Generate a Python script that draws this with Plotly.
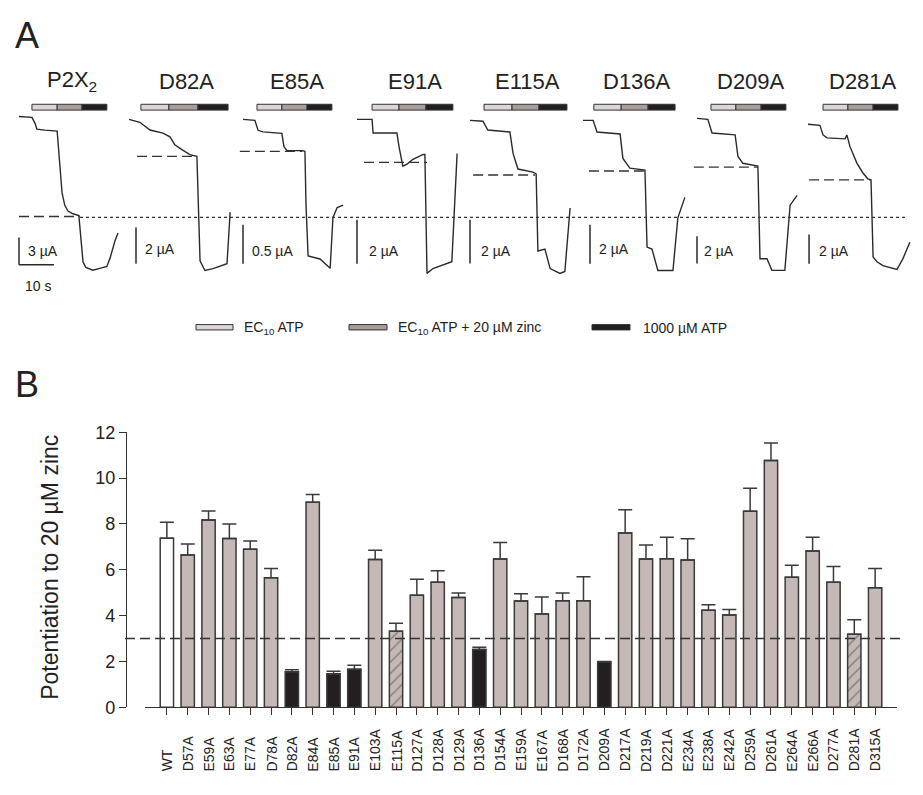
import plotly.graph_objects as go

FONT = "Liberation Sans, Arial, sans-serif"
W, H = 923, 795
BODY_MARGIN = 8  # default page margin around the figure div

# ---------------- Panel B data ----------------
categories = ["WT", "D57A", "E59A", "E63A", "E77A", "D78A", "D82A", "E84A", "E85A", "E91A",
              "E103A", "E115A", "D127A", "D128A", "D129A", "D136A", "D154A", "E159A", "E167A",
              "D168A", "D172A", "D209A", "D217A", "D219A", "D221A", "E234A", "E238A", "E242A",
              "D259A", "D261A", "E264A", "E266A", "D277A", "D281A", "D315A"]
potentiation = [7.38, 6.64, 8.17, 7.36, 6.89, 5.65, 1.55, 8.95, 1.46, 1.66,
                6.45, 3.32, 4.89, 5.46, 4.79, 2.52, 6.47, 4.64, 4.07,
                4.65, 4.65, 1.97, 7.60, 6.47, 6.48, 6.43, 4.23, 4.03,
                8.55, 10.77, 5.67, 6.82, 5.45, 3.18, 5.21]
sem = [0.69, 0.49, 0.40, 0.64, 0.37, 0.41, 0.08, 0.33, 0.11, 0.17,
       0.40, 0.34, 0.70, 0.50, 0.20, 0.10, 0.72, 0.31, 0.74,
       0.34, 1.05, 0.03, 1.02, 0.61, 0.94, 0.92, 0.24, 0.24,
       1.01, 0.76, 0.53, 0.60, 0.69, 0.64, 0.85]
# wt = wild type, ala = normal, low = abolished, part = partial
group = ["wt", "ala", "ala", "ala", "ala", "ala", "low", "ala", "low", "low",
         "ala", "part", "ala", "ala", "ala", "low", "ala", "ala", "ala",
         "ala", "ala", "low", "ala", "ala", "ala", "ala", "ala", "ala",
         "ala", "ala", "ala", "ala", "ala", "part", "ala"]
threshold = 3
y_ticks = [0, 2, 4, 6, 8, 10, 12]

# ---------------- Panel A data ----------------
trace_names = ["P2X<sub>2</sub>", "D82A", "E85A", "E91A", "E115A", "D136A", "D209A", "D281A"]
trace_t = [
    [0, 3.7, 4.6, 5.1, 7.4, 10.9, 12.3, 13.1, 14.0, 15.4, 17.1, 17.7, 18.0, 18.3, 19.1, 21.1, 23.1, 25.1, 26.0, 26.6, 27.4, 28.3],
    [0, 3.1, 6.0, 9.7, 11.7, 13.1, 15.1, 17.4, 19.4, 20.3, 21.7, 24.0, 28.0, 28.9],
    [0, 3.4, 4.3, 5.7, 11.1, 11.7, 12.6, 16.9, 17.7, 18.0, 18.6, 22.0, 24.9, 25.7, 26.9, 28.6],
    [0, 4.3, 4.6, 11.4, 12.0, 12.6, 13.1, 14.3, 16.0, 18.9, 19.4, 20.0, 21.7, 27.1, 28.6],
    [0, 3.7, 5.1, 11.4, 12.3, 13.7, 18.0, 18.9, 19.4, 21.4, 22.9, 25.7, 27.1, 28.6],
    [0, 2.9, 4.0, 10.6, 11.4, 13.4, 17.7, 18.3, 19.7, 21.4, 25.7, 27.1, 29.1],
    [0, 3.1, 4.3, 10.9, 11.7, 13.1, 17.4, 18.0, 20.0, 21.4, 25.1, 26.6, 28.6],
    [0, 3.4, 4.3, 5.4, 10.6, 11.1, 12.0, 14.0, 15.7, 17.1, 18.0, 18.6, 19.7, 21.4, 25.4, 27.1, 29.1],
]
trace_i = [
    [0, -0.1, -0.75, -1.4, -1.5, -1.6, -8.4, -9.8, -10.4, -10.7, -10.9, -14.0, -15.0, -16.0, -16.6, -16.9, -16.7, -16.5, -15.6, -14.8, -13.7, -12.8],
    [0, -0.16, -0.59, -0.76, -0.97, -1.41, -1.68, -1.95, -2.05, -7.84, -8.38, -8.27, -8.0, -5.14],
    [0, -0.013, -0.14, -0.16, -0.18, -0.35, -0.40, -0.40, -0.41, -1.1, -1.75, -1.79, -1.91, -1.26, -1.13, -1.10],
    [0, 0, -0.62, -0.62, -1.24, -1.69, -2.13, -2.04, -1.82, -1.6, -1.6, -7.02, -6.8, -6.49, -1.56],
    [0, -0.04, -0.44, -0.53, -1.51, -2.22, -2.36, -2.44, -5.96, -5.87, -6.76, -6.98, -6.89, -4.0],
    [0, 0, -0.6, -0.7, -1.95, -2.45, -2.55, -6.5, -6.6, -7.7, -7.7, -5.0, -3.95],
    [0, -0.07, -1.07, -1.21, -2.79, -3.29, -3.5, -10.29, -10.29, -11.14, -11.14, -6.36, -5.64],
    [0, -0.07, -0.73, -0.93, -1.0, -0.73, -1.53, -2.67, -3.33, -3.73, -3.8, -9.07, -9.4, -9.67, -9.93, -9.2, -8.07],
]
# application times (s): EC10 start, zinc start, 1000 uM ATP start, end
app_times = [
    [3.7, 10.9, 18.0, 25.1], [3.4, 11.4, 19.7, 28.3], [4.0, 11.1, 18.3, 25.4], [4.3, 12.0, 19.7, 27.4],
    [4.0, 12.0, 19.7, 27.7], [3.1, 10.9, 18.6, 26.3], [4.0, 11.1, 18.3, 25.4], [4.3, 11.4, 18.6, 25.7],
]
zinc_level = [-11.0, -2.05, -0.41, -1.96, -2.49, -2.6, -3.57, -3.8]
zinc_span = [[0, 17.4], [2.3, 19.4], [-0.9, 16.9], [2.0, 20.0], [0.9, 18.6], [1.7, 18.3], [-0.9, 17.4], [0.3, 18.0]]
scale_uA = [3, 2, 0.5, 2, 2, 2, 2, 2]
scale_text = ["3 µA", "2 µA", "0.5 µA", "2 µA", "2 µA", "2 µA", "2 µA", "2 µA"]
time_scale_s = 10
legend_labels = ["EC<sub>10</sub> ATP", "EC<sub>10</sub> ATP + 20 µM zinc", "1000 µM ATP"]
app_colors = ["#dcd6d5", "#a89d9b", "#231f20"]

# ---------------- layout helpers (positions) ----------------
def py(p):  # screen pixel row -> paper y
    return (H - (p - BODY_MARGIN)) / H

def px(p):  # screen pixel column -> paper x
    return (p - BODY_MARGIN) / W

trace_x0 = [19, 129, 243, 357, 470, 583, 697, 808]   # pixel origin of each recording
PX_PER_S = 3.5
T_RANGE = [-3, 32]
y_ranges = [[-19.4, 2.04], [-9.62, 1.19], [-2.225, 0.275], [-7.91, 0.978],
            [-7.87, 1.022], [-8.85, 1.15], [-12.79, 1.5], [-11.53, 1.8]]
sb_pos = [[0, -16.3], [2.0, -8.0], [0, -1.85], [0, -6.58], [0, -6.53], [2.0, -7.35], [0, -10.64], [0.3, -9.53]]
sb_label_pos = [[2.0, -14.8], [4.0, -7.2], [2.0, -1.69], [2.9, -6.0], [2.6, -5.96], [4.0, -6.6], [1.4, -9.71], [2.6, -8.67]]
ten_s_label = [1.1, -18.65]

fig = go.Figure()
layout = dict(width=W, height=H, margin=dict(l=0, r=0, t=0, b=0),
              paper_bgcolor="white", plot_bgcolor="rgba(0,0,0,0)",
              showlegend=False, font=dict(family=FONT, color="#222"))
shapes, annotations = [], []
LINE = "#2a2a2a"

# ---------------- Panel A ----------------
for k in range(8):
    xa, ya = f"x{k+2}", f"y{k+2}"
    x0 = trace_x0[k]
    dom = [px(x0 + T_RANGE[0] * PX_PER_S), px(x0 + T_RANGE[1] * PX_PER_S)]
    layout[f"xaxis{k+2}"] = dict(domain=dom, range=T_RANGE, visible=False, anchor=ya)
    layout[f"yaxis{k+2}"] = dict(domain=[py(290), py(90)], range=y_ranges[k], visible=False, anchor=xa)
    fig.add_trace(go.Scatter(x=trace_t[k], y=trace_i[k], mode="lines", xaxis=xa, yaxis=ya,
                             line=dict(color=LINE, width=1.4), hoverinfo="skip"))
    fig.add_trace(go.Scatter(x=zinc_span[k], y=[zinc_level[k]] * 2, mode="lines", xaxis=xa, yaxis=ya,
                             line=dict(color="#333", width=1.4, dash="10px,5px"), hoverinfo="skip"))
    sx, sy = sb_pos[k]
    fig.add_trace(go.Scatter(x=[sx, sx], y=[sy, sy + scale_uA[k]], mode="lines", xaxis=xa, yaxis=ya,
                             line=dict(color=LINE, width=1.5), hoverinfo="skip"))
    annotations.append(dict(x=sb_label_pos[k][0], y=sb_label_pos[k][1], xref=xa, yref=ya,
                            text=scale_text[k], showarrow=False, xanchor="left", yanchor="middle",
                            font=dict(size=14, family=FONT, color="#222")))
    if k == 0:
        fig.add_trace(go.Scatter(x=[sx, sx + time_scale_s], y=[sy, sy], mode="lines", xaxis=xa, yaxis=ya,
                                 line=dict(color=LINE, width=1.5), hoverinfo="skip"))
        annotations.append(dict(x=ten_s_label[0], y=ten_s_label[1], xref=xa, yref=ya,
                                text=f"{time_scale_s} s", showarrow=False, xanchor="left", yanchor="middle",
                                font=dict(size=14, family=FONT, color="#222")))
    a = app_times[k]
    for j in range(3):
        shapes.append(dict(type="rect", xref=xa, yref="paper", x0=a[j], x1=a[j + 1],
                           y0=py(102.5), y1=py(96.5), fillcolor=app_colors[j],
                           line=dict(color="#333", width=1)))
    annotations.append(dict(x=(a[0] + a[3]) / 2 + 0.6, xref=xa, y=py(73), yref="paper",
                            text=trace_names[k], showarrow=False, xanchor="center", yanchor="middle",
                            font=dict(size=22, family=FONT, color="#222")))

shapes.append(dict(type="line", xref="paper", yref="paper", x0=px(80), x1=px(905), y0=py(212.5), y1=py(212.5),
                   line=dict(color="#333", width=1.3, dash="dot")))

leg_boxes = [[196, 233], [349, 387], [592, 630]]
leg_text_x = [242, 396, 641]
for j in range(3):
    shapes.append(dict(type="rect", xref="paper", yref="paper", x0=px(leg_boxes[j][0]), x1=px(leg_boxes[j][1]),
                       y0=py(328), y1=py(322.5), fillcolor=app_colors[j], line=dict(color="#333", width=1)))
    annotations.append(dict(x=px(leg_text_x[j]), y=py(326), xref="paper", yref="paper", text=legend_labels[j],
                            showarrow=False, xanchor="left", yanchor="middle",
                            font=dict(size=14, family=FONT, color="#222")))

# ---------------- Panel B ----------------
fill_map = {"wt": "#ffffff", "ala": "#c4b9b6", "low": "#231f20", "part": "#c4b9b6"}
colors = [fill_map[g] for g in group]
patterns = ["/" if g == "part" else "" for g in group]
fig.add_trace(go.Bar(
    x=categories, y=potentiation, width=0.64,
    marker=dict(color=colors, line=dict(color="#3a3a3a", width=1.5),
                pattern=dict(shape=patterns, fgcolor="#333", size=8, solidity=0.18)),
    error_y=dict(type="data", symmetric=False, array=sem, arrayminus=[0] * len(sem),
                 color="#3a3a3a", thickness=1.5, width=7),
    hoverinfo="skip"))

layout["xaxis"] = dict(domain=[px(145), px(897)], range=[-1.05, 35.05], type="category",
                       tickmode="array", tickvals=categories, showticklabels=False,
                       ticks="outside", ticklen=7, tickwidth=1.3, tickcolor="#333",
                       showline=True, linecolor="#333", linewidth=1.3, showgrid=False, zeroline=False,
                       anchor="y")
layout["yaxis"] = dict(domain=[py(715), py(433)], range=[0, 12], anchor="free", position=px(126),
                       tickmode="array", tickvals=y_ticks, ticks="outside", ticklen=7, tickwidth=1.3,
                       tickcolor="#333", showline=True, linecolor="#333", linewidth=1.3,
                       showgrid=False, zeroline=False, tickfont=dict(size=18, family=FONT, color="#222"))

shapes.append(dict(type="line", xref="paper", yref="y", x0=px(125), x1=px(901), y0=threshold, y1=threshold,
                   line=dict(color="#333", width=1.4, dash="10px,5px")))

for c in categories:
    annotations.append(dict(x=c, xref="x", y=py(783), yref="paper", text=c, textangle=-90,
                            showarrow=False, xanchor="center", yanchor="bottom",
                            font=dict(size=14, family=FONT, color="#222")))

annotations.append(dict(x=px(50), y=py(572), xref="paper", yref="paper", text="Potentiation to 20 µM zinc",
                        textangle=-90, showarrow=False, xanchor="center", yanchor="middle",
                        font=dict(size=23, family=FONT, color="#222")))

annotations.append(dict(x=px(13), y=py(26), xref="paper", yref="paper", text="A", showarrow=False,
                        xanchor="left", yanchor="middle", font=dict(size=36, family=FONT, color="#222")))
annotations.append(dict(x=px(13), y=py(384), xref="paper", yref="paper", text="B", showarrow=False,
                        xanchor="left", yanchor="middle", font=dict(size=36, family=FONT, color="#222")))

layout["shapes"] = shapes
layout["annotations"] = annotations
fig.update_layout(**layout)
fig.write_html("out.html", config={"displayModeBar": False})
